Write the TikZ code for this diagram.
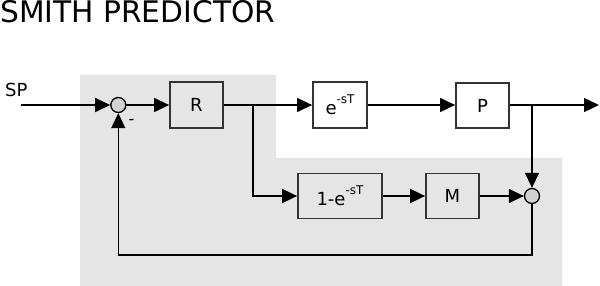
\documentclass[tikz,border=0pt]{standalone}
\usepackage{fontspec}
\setmainfont{DejaVu Sans}
\usetikzlibrary{arrows.meta}
\definecolor{bg}{HTML}{E5E5E5}
\definecolor{sumfill}{HTML}{D3D3D3}
\definecolor{edge}{HTML}{333333}
\tikzset{
  blk/.style={draw=edge, line width=1.8pt, inner sep=0pt, font=\fontsize{18}{18}\selectfont},
  sumnode/.style={circle, draw=black, line width=1.3pt, fill=sumfill, minimum size=15pt, inner sep=0pt},
  arr/.style={line width=1.3pt, -{Triangle[length=15pt,width=14pt]}},
  lbl/.style={inner sep=0pt, font=\fontsize{18}{18}\selectfont}
}
\newcommand{\supx}[1]{\raisebox{11pt}{\fontsize{12}{12}\selectfont #1}}
\begin{document}
\begin{tikzpicture}[x=1pt,y=-1pt]
\useasboundingbox (0,0) rectangle (600,286);
\fill[bg] (80,75) -- (276,75) -- (276,158) -- (562,158) -- (562,286) -- (80,286) -- cycle;
\node[anchor=base west, inner sep=0pt, font=\fontsize{29.7}{29.7}\selectfont] (title) at (0,22.5) {SMITH PREDICTOR};
\node[lbl, anchor=base west] (sp) at (5,97) {SP};
\node[sumnode] (s1) at (118.3,105) {};
\node[blk, fill=bg, minimum width=53pt, minimum height=46pt] (R) at (196.5,105) {R};
\node[blk, fill=white, minimum width=54pt, minimum height=46pt] (E) at (340,105) {e\supx{-sT}};
\node[blk, fill=white, minimum width=53pt, minimum height=45pt] (P) at (482.5,105.5) {P};
\node[blk, fill=bg, minimum width=84pt, minimum height=45pt] (L) at (340,196) {1-e\supx{-sT}};
\node[blk, fill=bg, minimum width=53pt, minimum height=45pt] (M) at (452.5,196) {M};
\node[sumnode] (s2) at (532,196) {};
\node[lbl, font=\fontsize{16}{16}\selectfont] (minus) at (131.5,121.5) {-};
\coordinate (spin) at (21,105);
\coordinate (br1) at (253,105);
\coordinate (br2) at (532,105);
\coordinate (out) at (599,105);
\coordinate (fb) at (118.3,255);
\draw[arr] (spin) -- (s1);
\draw[arr] (s1) -- (R);
\draw[arr] (R.east |- br1) -- (E.west |- br1);
\draw[arr] (br1) |- (L);
\draw[arr] (E) -- (E -| P.west);
\draw[arr] (P.east |- out) -- (out);
\draw[arr] (br2) -- (s2);
\draw[arr] (L) -- (M);
\draw[arr] (M) -- (s2);
\draw[arr] (s2) |- (fb) -- (s1);
\end{tikzpicture}
\end{document}
